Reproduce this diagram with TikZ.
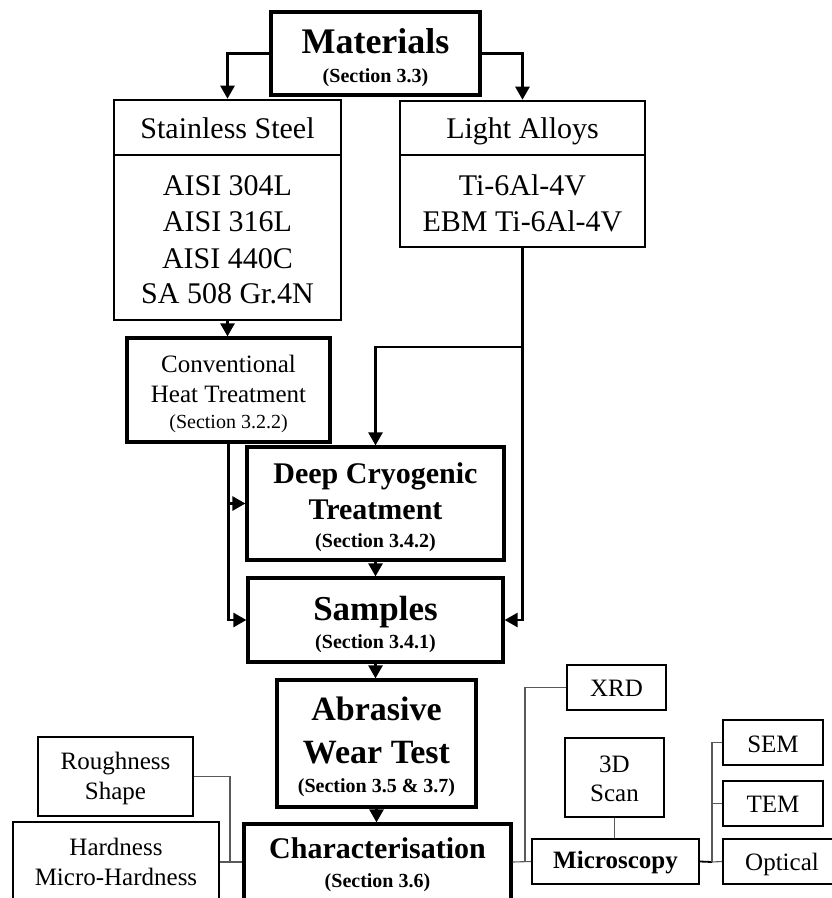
\documentclass[tikz,border=0pt]{standalone}
\usepackage{fontspec}
\setmainfont{Liberation Serif}
\usetikzlibrary{arrows.meta}
\newcommand\fsz[1]{\fontsize{#1}{#1}\selectfont}
\tikzset{
  thickbox/.style={draw, line width=3.2pt, inner sep=0pt},
  midbox/.style={draw, line width=2.6pt, inner sep=0pt},
  thinbox/.style={draw, line width=1.9pt, inner sep=0pt},
  txt/.style={anchor=base, inner sep=0pt},
  arr/.style={line width=2.6pt, -{Triangle[length=13pt,width=14pt]}},
  link/.style={line width=1.1pt, draw=black!65},
}
\begin{document}
\begin{tikzpicture}[x=1pt,y=-1pt]
\useasboundingbox (0,0) rectangle (832,898);
\fill[white] (0,0) rectangle (832,898);
\clip (0,0) rectangle (832,898);
% boxes
\node[thickbox, minimum width=209pt, minimum height=83pt] (mat) at (375.5,53.5) {};
\node[midbox, minimum width=227pt, minimum height=55pt] (ssH) at (227.5,127.5) {};
\node[midbox, minimum width=227pt, minimum height=165pt] (ss) at (227.5,237.5) {};
\node[midbox, minimum width=245pt, minimum height=54pt] (laH) at (522.5,128) {};
\node[midbox, minimum width=245pt, minimum height=92pt] (la) at (522.5,201) {};
\node[thickbox, minimum width=203pt, minimum height=104pt] (cht) at (228.5,390) {};
\node[thickbox, minimum width=257pt, minimum height=113pt] (dct) at (375.5,503.5) {};
\node[thickbox, minimum width=255pt, minimum height=84pt] (samp) at (375.5,620) {};
\node[thickbox, minimum width=199pt, minimum height=127pt] (abr) at (376.5,743.5) {};
\node[thickbox, minimum width=267pt, minimum height=76pt] (char) at (377.5,862) {};
\node[thinbox, minimum width=155pt, minimum height=79pt] (rough) at (115.5,776.5) {};
\node[thinbox, minimum width=206pt, minimum height=80pt] (hard) at (116,862) {};
\node[thinbox, minimum width=99pt, minimum height=45pt] (xrd) at (616.5,687.5) {};
\node[thinbox, minimum width=99pt, minimum height=79pt] (scan) at (614.5,777.5) {};
\node[thinbox, minimum width=167pt, minimum height=45pt] (micro) at (615.5,861.5) {};
\node[thinbox, minimum width=100pt, minimum height=45pt] (sem) at (773,742.5) {};
\node[thinbox, minimum width=100pt, minimum height=45pt] (tem) at (773,803.5) {};
\node[thinbox, minimum width=118pt, minimum height=45pt] (opt) at (782,861.5) {};
% texts
\node[txt, font=\fsz{36}\bfseries] (matT) at (375.5,53) {Materials};
\node[txt, font=\fsz{20}\bfseries] (matS) at (375.5,82) {(Section 3.3)};
\node[txt, font=\fsz{30}] (ssT) at (227.5,138) {Stainless Steel};
\node[txt, font=\fsz{30}] (ss1) at (227.5,195) {AISI 304L};
\node[txt, font=\fsz{30}] (ss2) at (227.5,231) {AISI 316L};
\node[txt, font=\fsz{30}] (ss3) at (227.5,268) {AISI 440C};
\node[txt, font=\fsz{30}] (ss4) at (227.5,303) {SA 508 Gr.4N};
\node[txt, font=\fsz{30}] (laT) at (522.5,138) {Light Alloys};
\node[txt, font=\fsz{30}] (la1) at (522.5,195) {Ti-6Al-4V};
\node[txt, font=\fsz{30}] (la2) at (522.5,231) {EBM Ti-6Al-4V};
\node[txt, font=\fsz{25}] (cht1) at (228.5,372) {Conventional};
\node[txt, font=\fsz{25}] (cht2) at (228.5,402) {Heat Treatment};
\node[txt, font=\fsz{20}] (cht3) at (228.5,428) {(Section 3.2.2)};
\node[txt, font=\fsz{30}\bfseries] (dct1) at (375.5,483) {Deep Cryogenic};
\node[txt, font=\fsz{30}\bfseries] (dct2) at (375.5,519) {Treatment};
\node[txt, font=\fsz{20}\bfseries] (dct3) at (375.5,547) {(Section 3.4.2)};
\node[txt, font=\fsz{35}\bfseries] (samp1) at (375.5,620) {Samples};
\node[txt, font=\fsz{20}\bfseries] (samp2) at (375.5,648) {(Section 3.4.1)};
\node[txt, font=\fsz{34}\bfseries] (abr1) at (376.5,720) {Abrasive};
\node[txt, font=\fsz{34}\bfseries] (abr2) at (376.5,763) {Wear Test};
\node[txt, font=\fsz{20}\bfseries] (abr3) at (376.5,792) {(Section 3.5 \& 3.7)};
\node[txt, font=\fsz{30}\bfseries] (char1) at (377.5,858) {Characterisation};
\node[txt, font=\fsz{20}\bfseries] (char2) at (377.5,887) {(Section 3.6)};
\node[txt, font=\fsz{25}] (rough1) at (115.5,769) {Roughness};
\node[txt, font=\fsz{25}] (rough2) at (115.5,799) {Shape};
\node[txt, font=\fsz{25}] (hard1) at (116,855) {Hardness};
\node[txt, font=\fsz{25}] (hard2) at (116,885) {Micro-Hardness};
\node[txt, font=\fsz{25}] (xrdT) at (616.5,696) {XRD};
\node[txt, font=\fsz{25}] (scan1) at (614.5,772) {3D};
\node[txt, font=\fsz{25}] (scan2) at (614.5,801) {Scan};
\node[txt, font=\fsz{25}\bfseries] (microT) at (615.5,868) {Microscopy};
\node[txt, font=\fsz{25}] (semT) at (773,752) {SEM};
\node[txt, font=\fsz{25}] (temT) at (773,812) {TEM};
\node[txt, font=\fsz{25}] (optT) at (782,870) {Optical};
% junction coordinates
\coordinate (br) at (522.5,347);
\coordinate (jl) at (230,862);
\coordinate (jr) at (525,862);
\coordinate (jm) at (712,862);
% thick arrows
\draw[arr] (mat.west) -| (ssH.north);
\draw[arr] (mat.east) -| (laH.north);
\draw[arr] (ss.south) -- (ss.south |- cht.north);
\draw[arr] (la.south) |- (samp.east);
\draw[arr] (br) -| (dct.north);
\draw[arr] (cht.south) |- (samp.west);
\draw[arr] (cht.south |- dct.west) -- (dct.west);
\draw[arr] (dct.south) -- (samp.north);
\draw[arr] (samp.south) -- (samp.south |- abr.north);
\draw[arr] (abr.south) -- (abr.south |- char.north);
% thin links
\draw[link] (rough.east) -| (jl) -- (char.west);
\draw[link] (hard.east) -- (jl);
\draw[link] (xrd.west) -| (jr);
\draw[link] (char.east) -- (micro.west);
\draw[link] (scan.south) -- (scan.south |- micro.north);
\draw[link, line width=1.8pt, draw=black] (micro.east) -- (jm);
\draw[link] (sem.west) -| (jm);
\draw[link] (tem.west) -- (tem.west -| jm);
\draw[link] (opt.west) -- (jm);
\end{tikzpicture}
\end{document}
